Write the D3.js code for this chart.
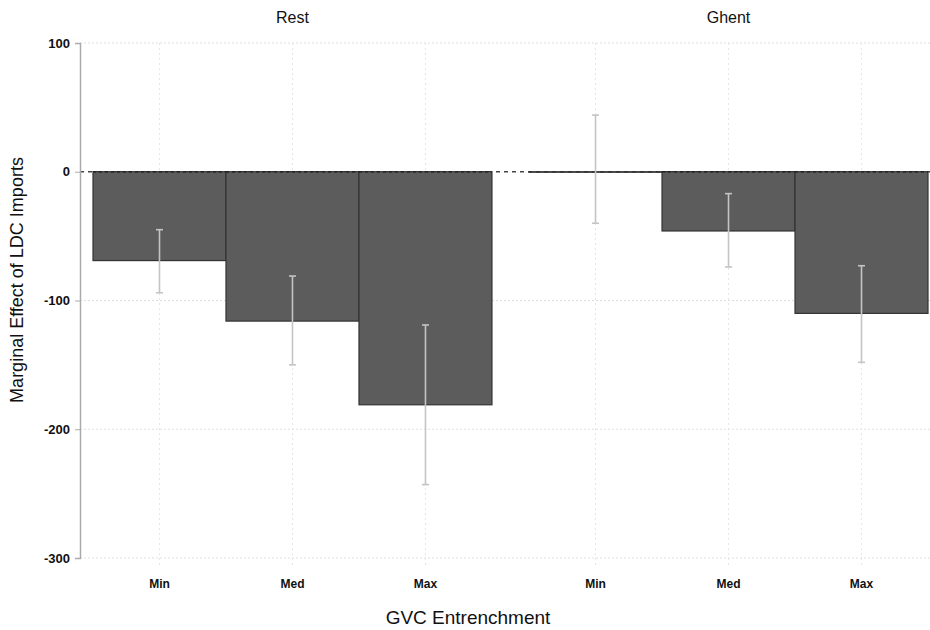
<!DOCTYPE html>
<html lang="en">
  <head>
    <meta charset="UTF-8" />
    <title>Marginal Effect of LDC Imports</title>
    <script src="https://d3js.org/d3.v7.min.js"></script>
    <style>
      body {
        margin: 0;
        background: #fff;
      }
      text {
        font-family: Arial, "Liberation Sans", sans-serif;
        fill: #111;
      }
    </style>
  </head>
  <body>
    <div class="chart"></div>
  </body>

  <script>
    // data
    var panels = ["Rest", "Ghent"];
    var levels = ["Min", "Med", "Max"];
    var restEffect = [-69, -116, -181];
    var restLow = [-94, -150, -243];
    var restHigh = [-45, -81, -119];
    var ghentEffect = [0, -46, -110];
    var ghentLow = [-40, -74, -148];
    var ghentHigh = [44, -17, -73];
    var yTicks = [100, 0, -100, -200, -300];

    var rows = [];
    levels.forEach(function (l, i) {
      rows.push({ panel: "Rest", level: l, b: restEffect[i], lo: restLow[i], hi: restHigh[i] });
    });
    levels.forEach(function (l, i) {
      rows.push({ panel: "Ghent", level: l, b: ghentEffect[i], lo: ghentLow[i], hi: ghentHigh[i] });
    });

    var width = 930;
    var height = 630;
    var axisX = 80;
    var rightEdge = 930;

    var svg = d3
      .select(".chart")
      .append("svg")
      .attr("width", width)
      .attr("height", height);

    var yScale = d3.scaleLinear().domain([-300, 100]).range([558, 43]);

    var xPanel = d3
      .scaleBand()
      .domain(panels)
      .range([93, 928])
      .paddingInner(0.085);

    var xLevel = d3
      .scaleBand()
      .domain(levels)
      .range([0, xPanel.bandwidth()])
      .padding(0);

    function cx(d) {
      return xPanel(d.panel) + xLevel(d.level) + xLevel.bandwidth() / 2;
    }

    // grid
    svg
      .append("g")
      .selectAll("line")
      .data(yTicks.filter((t) => t !== 0))
      .join("line")
      .attr("x1", axisX)
      .attr("x2", rightEdge)
      .attr("y1", (d) => yScale(d))
      .attr("y2", (d) => yScale(d))
      .attr("stroke", "#dedede")
      .attr("stroke-width", 1)
      .attr("stroke-dasharray", "2,2");

    svg
      .append("g")
      .selectAll("line")
      .data(rows)
      .join("line")
      .attr("x1", cx)
      .attr("x2", cx)
      .attr("y1", yScale(100))
      .attr("y2", yScale(-300) + 7)
      .attr("stroke", "#e6e6e6")
      .attr("stroke-width", 1)
      .attr("stroke-dasharray", "2,3");

    // zero line (under the bars)
    svg
      .append("line")
      .attr("x1", axisX)
      .attr("x2", rightEdge)
      .attr("y1", yScale(0))
      .attr("y2", yScale(0))
      .attr("stroke", "#444")
      .attr("stroke-width", 1.5)
      .attr("stroke-dasharray", "4,4");

    // bars (zero-height bars still show as a line)
    svg
      .append("g")
      .selectAll("rect")
      .data(rows)
      .join("rect")
      .attr("x", (d) => xPanel(d.panel) + xLevel(d.level))
      .attr("width", xLevel.bandwidth())
      .attr("y", (d) => yScale(Math.max(0, d.b)))
      .attr("height", (d) => Math.max(0.5, Math.abs(yScale(d.b) - yScale(0))))
      .attr("fill", "#5c5c5c")
      .attr("stroke", "#333")
      .attr("stroke-width", 1.2);

    // dashed zero line over the bar tops
    svg
      .append("g")
      .selectAll("line")
      .data(rows.filter((d) => d.b !== 0))
      .join("line")
      .attr("x1", (d) => xPanel(d.panel) + xLevel(d.level))
      .attr("x2", (d) => xPanel(d.panel) + xLevel(d.level) + xLevel.bandwidth())
      .attr("y1", yScale(0))
      .attr("y2", yScale(0))
      .attr("stroke", "#222")
      .attr("stroke-width", 1.5)
      .attr("stroke-dasharray", "3,3");

    // error bars
    var err = svg.append("g").attr("stroke", "#c4c4c4").attr("stroke-width", 1.6);
    err
      .selectAll(".ci")
      .data(rows)
      .join("line")
      .attr("class", "ci")
      .attr("x1", cx)
      .attr("x2", cx)
      .attr("y1", (d) => yScale(d.hi))
      .attr("y2", (d) => yScale(d.lo));
    err
      .selectAll(".capHi")
      .data(rows)
      .join("line")
      .attr("class", "capHi")
      .attr("x1", (d) => cx(d) - 3.5)
      .attr("x2", (d) => cx(d) + 3.5)
      .attr("y1", (d) => yScale(d.hi))
      .attr("y2", (d) => yScale(d.hi));
    err
      .selectAll(".capLo")
      .data(rows)
      .join("line")
      .attr("class", "capLo")
      .attr("x1", (d) => cx(d) - 3.5)
      .attr("x2", (d) => cx(d) + 3.5)
      .attr("y1", (d) => yScale(d.lo))
      .attr("y2", (d) => yScale(d.lo));

    // y axis
    var yAxis = d3
      .axisLeft(yScale)
      .tickValues(yTicks)
      .tickSize(5)
      .tickPadding(5)
      .tickFormat(d3.format("d"));
    var gy = svg
      .append("g")
      .attr("transform", `translate(${axisX},0)`)
      .call(yAxis);
    gy.select(".domain").attr("stroke", "#aaa").attr("stroke-width", 1.5);
    gy.selectAll(".tick line").attr("stroke", "#aaa");
    gy.selectAll(".tick text")
      .style("font-size", "13px")
      .style("font-weight", "bold")
      .attr("fill", "#111")
      .text((d) => (d < 0 ? "-" + Math.abs(d) : d));

    // category labels
    svg
      .append("g")
      .selectAll("text")
      .data(rows)
      .join("text")
      .attr("x", cx)
      .attr("y", 588)
      .attr("text-anchor", "middle")
      .style("font-size", "12px")
      .style("font-weight", "bold")
      .text((d) => d.level);

    // panel titles
    svg
      .append("g")
      .selectAll("text")
      .data(panels)
      .join("text")
      .attr("x", (d) => xPanel(d) + xPanel.bandwidth() / 2)
      .attr("y", 23)
      .attr("text-anchor", "middle")
      .style("font-size", "16px")
      .text((d) => d);

    // axis titles
    svg
      .append("text")
      .attr("x", 468)
      .attr("y", 624)
      .attr("text-anchor", "middle")
      .style("font-size", "19px")
      .text("GVC Entrenchment");

    svg
      .append("text")
      .attr("transform", "translate(23,280) rotate(-90)")
      .attr("text-anchor", "middle")
      .style("font-size", "18px")
      .text("Marginal Effect of LDC Imports");
  </script>
</html>
